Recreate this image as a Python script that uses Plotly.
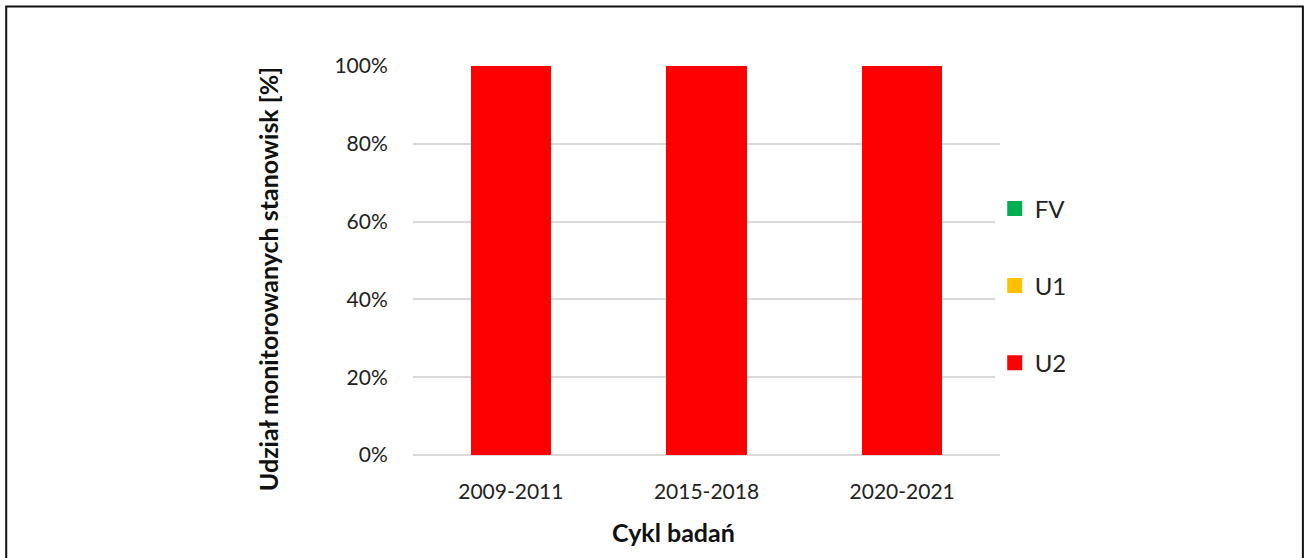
import plotly.graph_objects as go

# data
cycles = ['2009-2011', '2015-2018', '2020-2021']
fv = [0, 0, 0]
u1 = [0, 0, 0]
u2 = [100, 100, 100]

font_family = 'Lato, "Open Sans", sans-serif'

fig = go.Figure()

# stacked from bottom: U2, U1, FV
series = [('U2', u2, '#ff0000'), ('U1', u1, '#ffc000'), ('FV', fv, '#00b050')]
for name, vals, color in series:
    fig.add_trace(go.Bar(
        x=cycles,
        y=vals,
        name=name,
        showlegend=False,
        marker=dict(color=color, line=dict(width=0)),
    ))

# legend entries with square swatches (FV on top)
for name, vals, color in series[::-1]:
    fig.add_trace(go.Scatter(
        x=[None], y=[None],
        mode='markers',
        name=name,
        legendgroup=name,
        marker=dict(symbol='square', size=15, color=color),
    ))

fig.update_layout(
    barmode='stack',
    bargap=0.59,
    width=1305,
    height=558,
    margin=dict(l=413, r=305, t=66, b=103),
    plot_bgcolor='white',
    paper_bgcolor='white',
    font=dict(family=font_family, size=21, color='#222222'),
    legend=dict(
        x=0.991, y=0.435, xanchor='left', yanchor='middle',
        traceorder='grouped',
        tracegroupgap=43,
        font=dict(size=24),
        itemwidth=30,
    ),
    xaxis=dict(
        showgrid=False,
        ticks='outside', ticklen=18, tickcolor='rgba(0,0,0,0)',
    ),
    yaxis=dict(
        range=[0, 100],
        dtick=20,
        ticksuffix='%',
        showgrid=True,
        gridcolor='#d9d9d9',
        gridwidth=1.5,
        zeroline=True,
        zerolinecolor='#d9d9d9',
        zerolinewidth=1.5,
        ticks='outside', ticklen=20, tickcolor='rgba(0,0,0,0)',
    ),
    annotations=[
        dict(text='<b>Cykl badań</b>', xref='paper', yref='paper',
             x=0.443, y=-0.198, showarrow=False,
             xanchor='center', yanchor='middle', font=dict(size=25, color='#111111')),
        dict(text='<b>Udział monitorowanych stanowisk [%]</b>', xref='paper', yref='paper',
             x=-0.247, y=0.452, showarrow=False, textangle=-90,
             xanchor='center', yanchor='middle', font=dict(size=25, color='#111111')),
    ],
    shapes=[dict(
        type='rect', xref='paper', yref='paper',
        x0=-0.693, x1=1.516, y0=-0.5, y1=1.153,
        line=dict(color='#111111', width=2),
        fillcolor='rgba(0,0,0,0)', layer='below',
    )],
)

fig.write_html('out.html', config={'displayModeBar': False},
               post_script="document.body.style.margin='0';")
